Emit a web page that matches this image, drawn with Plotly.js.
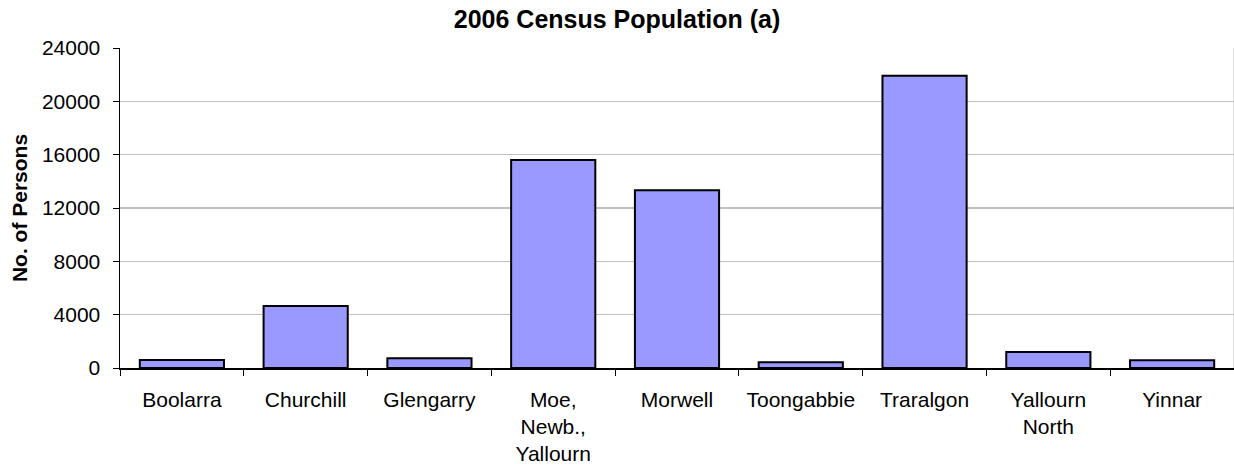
<!DOCTYPE html>
<html>
<head>
<meta charset="utf-8">
<script src="https://cdn.plot.ly/plotly-3.0.1.min.js"></script>
<style>html,body{margin:0;padding:0;background:#fff;}#chart{width:1234px;height:472px;}</style>
</head>
<body>
<div id="chart"></div>
<script>
const categories = ["Boolarra", "Churchill", "Glengarry", "Moe,<br>Newb.,<br>Yallourn", "Morwell", "Toongabbie", "Traralgon", "Yallourn<br>North", "Yinnar"];
const population = [600, 4650, 730, 15600, 13340, 430, 21920, 1200, 580];
const yTicks = [0, 4000, 8000, 12000, 16000, 20000, 24000];

const font = "Liberation Sans, Arial, sans-serif";

const trace = {
  type: "bar",
  x: categories,
  y: population,
  marker: { color: "#9999FF", line: { color: "#000000", width: 2 } },
  hoverinfo: "x+y"
};

const layout = {
  width: 1234,
  height: 472,
  margin: { l: 120, r: 0, t: 48, b: 104 },
  paper_bgcolor: "#ffffff",
  plot_bgcolor: "#ffffff",
  bargap: 0.32,
  showlegend: false,
  font: { family: font, size: 21, color: "#000000" },
  title: {
    text: "<b>2006 Census Population (a)</b>",
    font: { family: font, size: 25, color: "#000000" },
    xref: "container", x: 0.5, xanchor: "center",
    yref: "container", y: 1 - 19 / 472, yanchor: "middle"
  },
  xaxis: {
    type: "category",
    showline: true, linecolor: "#000000", linewidth: 1.5,
    ticks: "outside", tickson: "boundaries", ticklen: 6, tickcolor: "#000000", tickwidth: 1,
    showgrid: false, zeroline: false,
    tickfont: { family: font, size: 21, color: "#000000" },
    ticklabelstandoff: 12
  },
  yaxis: {
    range: [0, 24000],
    tickvals: yTicks,
    ticktext: yTicks.map(String),
    showline: true, linecolor: "#000000", linewidth: 1.5,
    ticks: "outside", ticklen: 6, tickcolor: "#000000", tickwidth: 1,
    showgrid: true, gridcolor: "#c0c0c0", gridwidth: 1.5,
    zeroline: false,
    tickfont: { family: font, size: 21, color: "#000000" },
    ticklabelstandoff: 8,
    title: {
      text: "<b>No. of Persons</b>",
      font: { family: font, size: 21, color: "#000000" },
      standoff: 8
    }
  },
  shapes: [
    { type: "line", xref: "paper", yref: "paper", x0: 1, x1: 1, y0: 0, y1: 1, line: { color: "#c0c0c0", width: 1 } }
  ]
};

Plotly.newPlot("chart", [trace], layout, { staticPlot: true, displayModeBar: false });
</script>
</body>
</html>
